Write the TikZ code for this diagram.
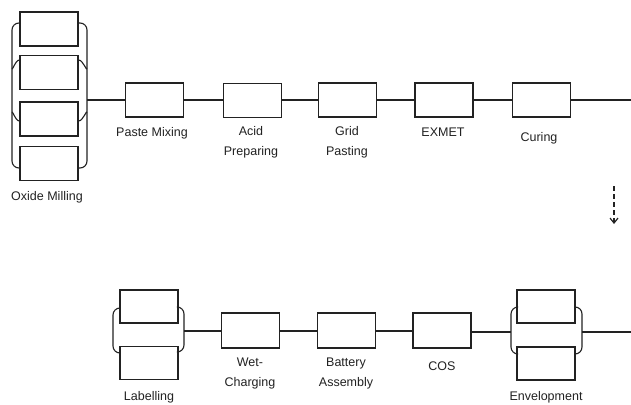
\documentclass[tikz,border=0pt]{standalone}
\usepackage{fontspec}
\setmainfont{Liberation Sans}
\usetikzlibrary{arrows.meta,calc}
\definecolor{ink}{HTML}{222222}
\begin{document}
\begin{tikzpicture}[x=1pt,y=-1pt,
  every path/.style={draw=ink,line width=1.1pt},
  proc/.style={draw=ink,line width=1.2pt,rectangle,minimum width=58pt,minimum height=34pt,inner sep=0pt},
  lab/.style={text=ink,font=\fontsize{12.5}{20}\selectfont,align=center,inner sep=0pt},
  wire/.style={draw=ink,line width=1.1pt},
  brk/.style={draw=ink,line width=1.1pt,rounded corners=7pt}]
\useasboundingbox[fill=white,draw=none] (0,0) rectangle (631,404);
% top row nodes
\node[proc] (o1) at (49,29) {};
\node[proc] (o2) at (49,72.5) {};
\node[proc] (o3) at (49,119) {};
\node[proc] (o4) at (49,163.5) {};
\node[proc] (pm) at (154.5,100) {};
\node[proc] (ap) at (252.5,100.5) {};
\node[proc] (gp) at (347.5,100) {};
\node[proc] (ex) at (444,100) {};
\node[proc] (cu) at (541.5,100) {};
% labels top
\node[lab] (lo) at (47,197) {Oxide Milling};
\node[lab] (lpm) at (152,133) {Paste Mixing};
\node[lab] (lap) at (251,142) {Acid\\Preparing};
\node[lab] (lgp) at (347,142) {Grid\\Pasting};
\node[lab] (lex) at (443,132) {EXMET};
\node[lab] (lcu) at (539,138) {Curing};
% oxide bracket
\coordinate (oL) at (12,100);
\coordinate (oR) at (87,100);
\draw[brk] ($(o1.west)+(0,-6)$) -| (oL) |- ($(o4.west)+(0,4.5)$);
\draw[wire] ($(o2.west)+(0,-12.5)$) to[out=180,in=-90] ($(oL)+(0,-32)$);
\draw[wire] ($(o3.west)+(0,2)$) to[out=180,in=90] ($(oL)+(0,13)$);
\draw[brk] ($(o1.east)+(0,-6)$) -| (oR) |- ($(o4.east)+(0,4.5)$);
\draw[wire] ($(o2.east)+(0,-12.5)$) to[out=0,in=-90] ($(oR)+(0,-32)$);
\draw[wire] ($(o3.east)+(0,2)$) to[out=0,in=90] ($(oR)+(0,13)$);
% main line top
\draw[wire] (oR) -- (pm.west);
\draw[wire] (pm.east) -- (ap.west |- pm.east);
\draw[wire] (ap.east |- gp.west) -- (gp.west);
\draw[wire] (gp.east) -- (ex.west);
\draw[wire] (ex.east) -- (cu.west);
\coordinate (tend) at (631,100);
\draw[wire] (cu.east) -- (tend);
% dashed arrow
\coordinate (da) at (614,186);
\coordinate (db) at (614,224);
\draw[wire,line width=1.2pt,dash pattern=on 5pt off 3pt,-{Straight Barb[length=5pt,width=8pt]}] (da) -- (db);
% bottom row nodes
\node[proc,minimum height=33pt] (l1) at (149,306.5) {};
\node[proc,minimum height=33pt] (l2) at (149,363) {};
\node[proc,minimum height=35pt] (wc) at (250.5,330.5) {};
\node[proc,minimum height=35pt] (ba) at (346.5,330.5) {};
\node[proc,minimum height=35pt] (co) at (442,330.5) {};
\node[proc,minimum height=33pt] (e1) at (546,306.5) {};
\node[proc,minimum height=33pt] (e2) at (546,363.5) {};
% labels bottom
\node[lab] (ll) at (149,397) {Labelling};
\node[lab] (lwc) at (250,373) {Wet-\\Charging};
\node[lab] (lba) at (346,373) {Battery\\Assembly};
\node[lab] (lco) at (442,366) {COS};
\node[lab] (len) at (546,397) {Envelopment};
% labelling bracket
\coordinate (lL) at (113,331);
\coordinate (lR) at (184,331);
\draw[brk] (l1.west |- 0,308) -| (lL) |- (l2.west |- 0,353);
\draw[brk] (l1.east |- 0,307) -| (lR) |- (l2.east |- 0,352);
% envelopment bracket
\coordinate (eL) at (511,332);
\coordinate (eR) at (582,332);
\draw[brk] (e1.west |- 0,307) -| (eL) |- (e2.west |- 0,354);
\draw[brk] (e1.east |- 0,307) -| (eR) |- (e2.east |- 0,354);
% bottom line
\draw[wire] (lR) -- (wc.west |- lR);
\draw[wire] (wc.east |- 0,331) -- (ba.west |- 0,331);
\draw[wire] (ba.east |- 0,331) -- (co.west |- 0,331);
\draw[wire] (co.east |- eL) -- (eL);
\coordinate (bend) at (631,332);
\draw[wire] (eR) -- (bend);
\end{tikzpicture}
\end{document}
